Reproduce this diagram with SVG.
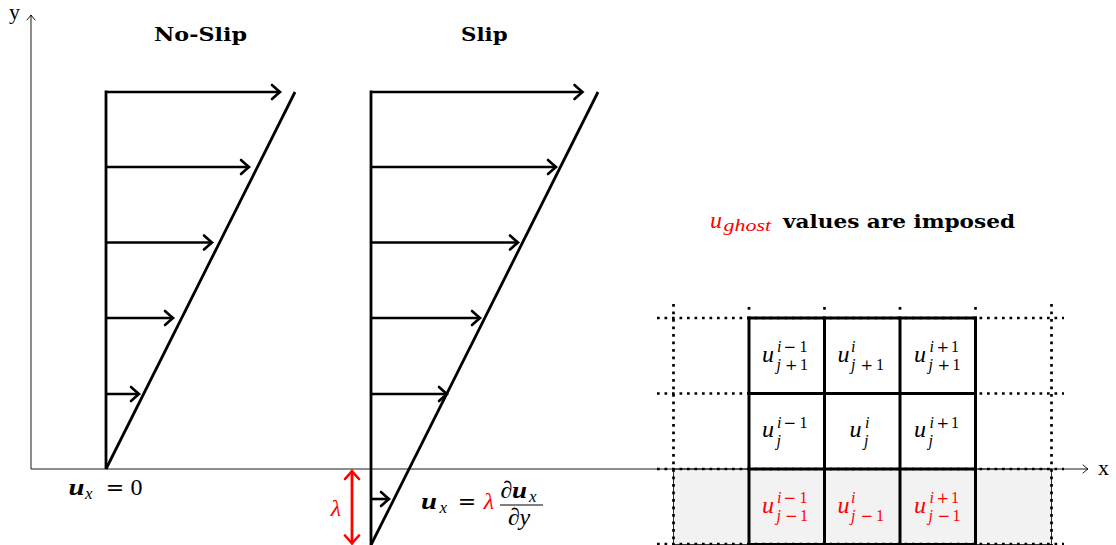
<svg xmlns="http://www.w3.org/2000/svg" width="1116" height="545" viewBox="0 0 1116 545">
<style>
.m{font-family:"Liberation Serif",serif;font-style:italic;font-size:24px}
.mb{font-family:"Liberation Serif",serif;font-style:italic;font-weight:bold;font-size:24px}
.r{font-family:"Liberation Serif",serif;font-size:24px}
.eq{font-family:"DejaVu Serif",serif;font-size:22px}
.s{font-family:"Liberation Serif",serif;font-size:16px}
.it{font-style:italic}
.op{font-family:"DejaVu Serif",serif;font-size:15px;font-style:normal}
.h{font-family:"DejaVu Serif",serif;font-weight:bold;font-size:19px}
.red{fill:#ff0000}
.prof{stroke:#000;stroke-width:2.8;fill:none}
.arr{stroke:#000;stroke-width:2.6;fill:none;marker-end:url(#ah)}
.axis{stroke:#000;stroke-width:0.9;fill:none;marker-end:url(#axh)}
.dot{stroke:#000;stroke-width:2.7;stroke-dasharray:2.7 4.8;fill:none}
.grid{stroke:#000;stroke-width:3;fill:none;stroke-linecap:square}
</style>
<defs>
<marker id="ah" markerUnits="userSpaceOnUse" viewBox="-10 -10 20 20" markerWidth="20" markerHeight="20" refX="0" refY="0" orient="auto">
<path d="M-8,-7 Q-2.5,-2 0,0 Q-2.5,2 -8,7" fill="none" stroke="#000" stroke-width="2.6" stroke-linecap="round"/>
</marker>
<marker id="ahr" markerUnits="userSpaceOnUse" viewBox="-10 -10 20 20" markerWidth="20" markerHeight="20" refX="0" refY="0" orient="auto-start-reverse">
<path d="M-8,-7 Q-2.5,-2 0,0 Q-2.5,2 -8,7" fill="none" stroke="#ff0000" stroke-width="2.6" stroke-linecap="round"/>
</marker>
<marker id="axh" markerUnits="userSpaceOnUse" viewBox="-10 -10 20 20" markerWidth="20" markerHeight="20" refX="0" refY="0" orient="auto">
<path d="M-5,-4 Q-1.5,-1 0,0 Q-1.5,1 -5,4" fill="none" stroke="#000" stroke-width="0.9" stroke-linecap="round"/>
</marker>
</defs>
<rect width="1116" height="545" fill="#fff"/>

<g id="ghost-region">
<rect x="673.5" y="469" width="378" height="75.5" fill="#f2f2f2" stroke="#000" stroke-width="0.8"/>
</g>

<g id="axes">
<line class="axis" x1="31" y1="469" x2="1088" y2="469"/>
<line class="axis" x1="31" y1="469" x2="31" y2="15"/>
<text class="r" x="9" y="19" style="font-size:22px">y</text>
<text class="r" x="1098" y="475" style="font-size:22px">x</text>
</g>

<g id="noslip-profile">
<line class="prof" x1="106" y1="469" x2="106" y2="90.6"/>
<line class="prof" x1="106" y1="469" x2="295" y2="92"/>
<text class="h" x="154" y="41" textLength="93" lengthAdjust="spacingAndGlyphs">No-Slip</text>
<g id="noslip-bc">
<text class="mb" x="68.5" y="495" textLength="16" lengthAdjust="spacingAndGlyphs">u</text>
<text class="s it" x="85" y="499" style="font-size:17px">x</text>
<text class="eq" x="115" y="495" text-anchor="middle">=</text>
<text class="r" x="136.5" y="495" text-anchor="middle">0</text>
</g>
</g>

<g id="slip-profile">
<line class="prof" x1="371" y1="545" x2="371" y2="90.6"/>
<line class="prof" x1="371" y1="545" x2="598" y2="92"/>
<text class="h" x="461" y="41" textLength="46.6" lengthAdjust="spacingAndGlyphs">Slip</text>
<g id="slip-bc">
<text class="mb" x="421" y="509" textLength="16" lengthAdjust="spacingAndGlyphs">u</text>
<text class="s it" x="439.5" y="513" style="font-size:17px">x</text>
<text class="eq" x="467" y="509" text-anchor="middle">=</text>
<text class="m red" x="489" y="509" text-anchor="middle">λ</text>
<line x1="500" y1="505" x2="543" y2="505" stroke="#000" stroke-width="1"/>
<text class="m" x="500.5" y="498">∂</text>
<text class="mb" x="512" y="498" textLength="15" lengthAdjust="spacingAndGlyphs">u</text>
<text class="s it" x="529" y="502" style="font-size:17px">x</text>
<text class="m" x="508" y="525">∂</text>
<text class="m" x="519.5" y="525">y</text>
</g>
<g id="slip-length">
<text class="m red" x="336" y="516" text-anchor="middle">λ</text>
</g>
</g>

<g id="connectors">
<line class="arr" x1="106" y1="92" x2="280" y2="92"/>
<line class="arr" x1="106" y1="167" x2="249" y2="167"/>
<line class="arr" x1="106" y1="242.5" x2="212" y2="242.5"/>
<line class="arr" x1="106" y1="318" x2="173" y2="318"/>
<line class="arr" x1="106" y1="394" x2="139" y2="394"/>
<line class="arr" x1="371" y1="92" x2="582.5" y2="92"/>
<line class="arr" x1="371" y1="167" x2="556" y2="167"/>
<line class="arr" x1="371" y1="242.5" x2="518" y2="242.5"/>
<line class="arr" x1="371" y1="318" x2="480" y2="318"/>
<line class="arr" x1="371" y1="394" x2="447" y2="394"/>
<line class="arr" x1="371" y1="499" x2="389" y2="499"/>
<line x1="352" y1="471" x2="352" y2="543.5" stroke="#ff0000" stroke-width="2.8" marker-start="url(#ahr)" marker-end="url(#ahr)"/>
</g>

<g id="ghost-title">
<text class="m red" x="710" y="228">u</text>
<text class="s it red" x="723.5" y="231" style="font-size:17px" textLength="47.5" lengthAdjust="spacingAndGlyphs">ghost</text>
<text class="h" x="783" y="228" textLength="232" lengthAdjust="spacingAndGlyphs">values are imposed</text>
</g>

<g id="grid-dotted">
<line class="dot" x1="657" y1="318" x2="1064" y2="318"/>
<line class="dot" x1="657" y1="393.5" x2="1064" y2="393.5"/>
<line class="dot" x1="657" y1="469" x2="1064" y2="469"/>
<line class="dot" x1="657" y1="544" x2="1064" y2="544"/>
<line class="dot" x1="673.5" y1="304" x2="673.5" y2="545"/>
<line class="dot" x1="1051.5" y1="304" x2="1051.5" y2="545"/>
<line class="dot" x1="749" y1="307" x2="749" y2="309.7"/>
<line class="dot" x1="824.5" y1="307" x2="824.5" y2="309.7"/>
<line class="dot" x1="900" y1="307" x2="900" y2="309.7"/>
<line class="dot" x1="975.5" y1="307" x2="975.5" y2="309.7"/>
</g>

<g id="grid-solid">
<line class="grid" x1="749" y1="318" x2="749" y2="544.5"/>
<line class="grid" x1="824.5" y1="318" x2="824.5" y2="544.5"/>
<line class="grid" x1="900" y1="318" x2="900" y2="544.5"/>
<line class="grid" x1="975.5" y1="318" x2="975.5" y2="544.5"/>
<line class="grid" x1="749" y1="318" x2="975.5" y2="318"/>
<line class="grid" x1="749" y1="393.5" x2="975.5" y2="393.5"/>
<line class="grid" x1="749" y1="469" x2="975.5" y2="469"/>
<line class="grid" x1="749" y1="544.5" x2="975.5" y2="544.5"/>
</g>

<g id="cell-top-left">
<text class="m" x="762" y="362">u</text>
<text class="s" y="352"><tspan class="it" x="777">i</tspan><tspan class="op" x="783.5">−</tspan><tspan x="799.5">1</tspan></text>
<text class="s" y="370"><tspan class="it" x="776.5">j</tspan><tspan class="op" x="785">+</tspan><tspan x="800">1</tspan></text>
</g>
<g id="cell-top-mid">
<text class="m" x="837.5" y="362">u</text>
<text class="s" y="352"><tspan class="it" x="851">i</tspan></text>
<text class="s" y="370"><tspan class="it" x="851">j</tspan><tspan class="op" x="860.5">+</tspan><tspan x="876">1</tspan></text>
</g>
<g id="cell-top-right">
<text class="m" x="914" y="362">u</text>
<text class="s" y="352"><tspan class="it" x="929.5">i</tspan><tspan class="op" x="936.5">+</tspan><tspan x="951">1</tspan></text>
<text class="s" y="370"><tspan class="it" x="928.5">j</tspan><tspan class="op" x="937.5">+</tspan><tspan x="952.5">1</tspan></text>
</g>

<g id="cell-mid-left">
<text class="m" x="762" y="437">u</text>
<text class="s" y="427.5"><tspan class="it" x="777">i</tspan><tspan class="op" x="783.5">−</tspan><tspan x="799.5">1</tspan></text>
<text class="s" y="445.5"><tspan class="it" x="776.5">j</tspan></text>
</g>
<g id="cell-mid-mid">
<text class="m" x="849.5" y="437">u</text>
<text class="s" y="427.5"><tspan class="it" x="865">i</tspan></text>
<text class="s" y="445.5"><tspan class="it" x="864">j</tspan></text>
</g>
<g id="cell-mid-right">
<text class="m" x="914" y="437">u</text>
<text class="s" y="427.5"><tspan class="it" x="929.5">i</tspan><tspan class="op" x="936.5">+</tspan><tspan x="951">1</tspan></text>
<text class="s" y="445.5"><tspan class="it" x="928.5">j</tspan></text>
</g>

<g id="cell-ghost-left">
<text class="m red" x="762" y="513">u</text>
<text class="s red" y="503"><tspan class="it" x="777">i</tspan><tspan class="op" x="783.5">−</tspan><tspan x="799.5">1</tspan></text>
<text class="s red" y="521"><tspan class="it" x="776.5">j</tspan><tspan class="op" x="785">−</tspan><tspan x="800">1</tspan></text>
</g>
<g id="cell-ghost-mid">
<text class="m red" x="837.5" y="513">u</text>
<text class="s red" y="503"><tspan class="it" x="851">i</tspan></text>
<text class="s red" y="521"><tspan class="it" x="851">j</tspan><tspan class="op" x="860.5">−</tspan><tspan x="876">1</tspan></text>
</g>
<g id="cell-ghost-right">
<text class="m red" x="914" y="513">u</text>
<text class="s red" y="503"><tspan class="it" x="929.5">i</tspan><tspan class="op" x="936.5">+</tspan><tspan x="951">1</tspan></text>
<text class="s red" y="521"><tspan class="it" x="928.5">j</tspan><tspan class="op" x="937.5">−</tspan><tspan x="952.5">1</tspan></text>
</g>
</svg>
